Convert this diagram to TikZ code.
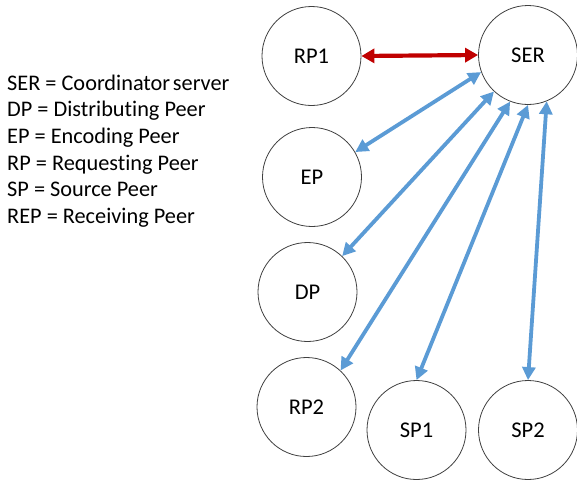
\documentclass[tikz,border=0pt]{standalone}
\usepackage{fontspec}
\setmainfont[Ligatures=NoCommon]{Carlito}
\usetikzlibrary{arrows.meta}
\definecolor{arrblue}{HTML}{5B9BD5}
\definecolor{arrred}{HTML}{C00000}
\begin{document}
\begin{tikzpicture}[x=1pt,y=-1pt,
  peer/.style={circle,draw=black!75,line width=0.8pt,minimum size=99pt,inner sep=0pt,font=\fontsize{22.5}{26}\selectfont},
  legendline/.style={anchor=base west,inner sep=0pt,font=\fontsize{22.3}{26}\selectfont},
  bluearrow/.style={draw=arrblue,line width=3.8pt,{Triangle[length=13pt,width=13pt]}-{Triangle[length=13pt,width=13pt]}},
  redarrow/.style={draw=arrred,line width=4.2pt,{Triangle[length=13pt,width=14pt]}-{Triangle[length=13pt,width=14pt]}}]
\useasboundingbox (0,0) rectangle (577,480);
\node[peer] (RP1) at (311.5,56) {RP1};
\node[peer] (SER) at (528,55) {SER};
\node[peer] (EP) at (312,177) {EP};
\node[peer] (DP) at (307.5,292) {DP};
\node[peer] (RP2) at (306.5,407) {RP2};
\node[peer] (SP1) at (416.5,430) {SP1};
\node[peer] (SP2) at (528,430) {SP2};
\node[legendline] (L1) at (7,90) {SER = Coordinator\hspace{0.12em}server};
\node[legendline] (L2) at (7,116.7) {DP = Distributing Peer};
\node[legendline] (L3) at (7,143.4) {EP = Encoding Peer};
\node[legendline] (L4) at (7,170.1) {RP = Requesting Peer};
\node[legendline] (L5) at (7,196.8) {SP = Source Peer};
\node[legendline] (L6) at (7,223.5) {REP = Receiving Peer};
\draw[redarrow] (RP1.east) -- (SER.west);
\draw[bluearrow] (EP.30) -- (SER.200);
\draw[bluearrow] (DP.46) -- (SER.227);
\draw[bluearrow] (RP2.47) -- (SER.249);
\draw[bluearrow] (SP1.north) -- (SER.270);
\draw[bluearrow] (SP2.north) -- (SER.292);
\end{tikzpicture}
\end{document}
